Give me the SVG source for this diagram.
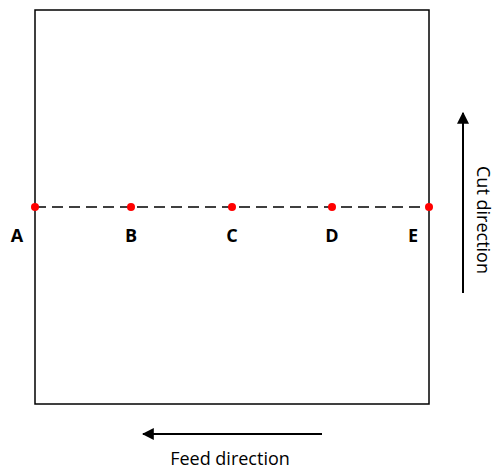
<svg xmlns="http://www.w3.org/2000/svg" width="498" height="469" viewBox="0 0 498 469">
<style>
.lbl{font-family:"Open Sans","Liberation Sans",sans-serif;font-weight:bold;font-size:18px;fill:#000;text-anchor:middle}
.cap{font-family:"Open Sans","Liberation Sans",sans-serif;font-size:18px;fill:#000;text-anchor:middle}
.dot{fill:#ff0000}
.arr{stroke:#000;stroke-width:2;fill:none}
</style>
<defs>
<marker id="ah2" viewBox="0 0 10 10" refX="9" refY="5" markerWidth="12" markerHeight="12" orient="auto" markerUnits="userSpaceOnUse">
<path d="M0,0 L10,5 L0,10 Z" fill="#000"/>
</marker>
</defs>
<rect id="workpiece" x="35" y="10" width="394" height="394" fill="#fff" stroke="#000" stroke-width="1.5"/>
<g id="connectors">
<line x1="35" y1="207" x2="429" y2="207" stroke="#000" stroke-width="1.5" stroke-dasharray="11,6"/>
<line class="arr" x1="463" y1="293" x2="463" y2="113" marker-end="url(#ah2)"/>
<line class="arr" x1="322" y1="434" x2="143" y2="434" marker-end="url(#ah2)"/>
</g>
<g id="A"><circle class="dot" cx="35" cy="207" r="4"/><text class="lbl" x="17" y="242">A</text></g>
<g id="B"><circle class="dot" cx="131" cy="207" r="4"/><text class="lbl" x="131" y="242">B</text></g>
<g id="C"><circle class="dot" cx="232" cy="207" r="4"/><text class="lbl" x="232" y="242">C</text></g>
<g id="D"><circle class="dot" cx="332" cy="207" r="4"/><text class="lbl" x="332" y="242">D</text></g>
<g id="E"><circle class="dot" cx="429" cy="207" r="4"/><text class="lbl" x="413" y="242">E</text></g>
<text class="cap" x="230" y="465">Feed direction</text>
<text class="cap" transform="translate(477,220) rotate(90)">Cut direction</text>
</svg>
